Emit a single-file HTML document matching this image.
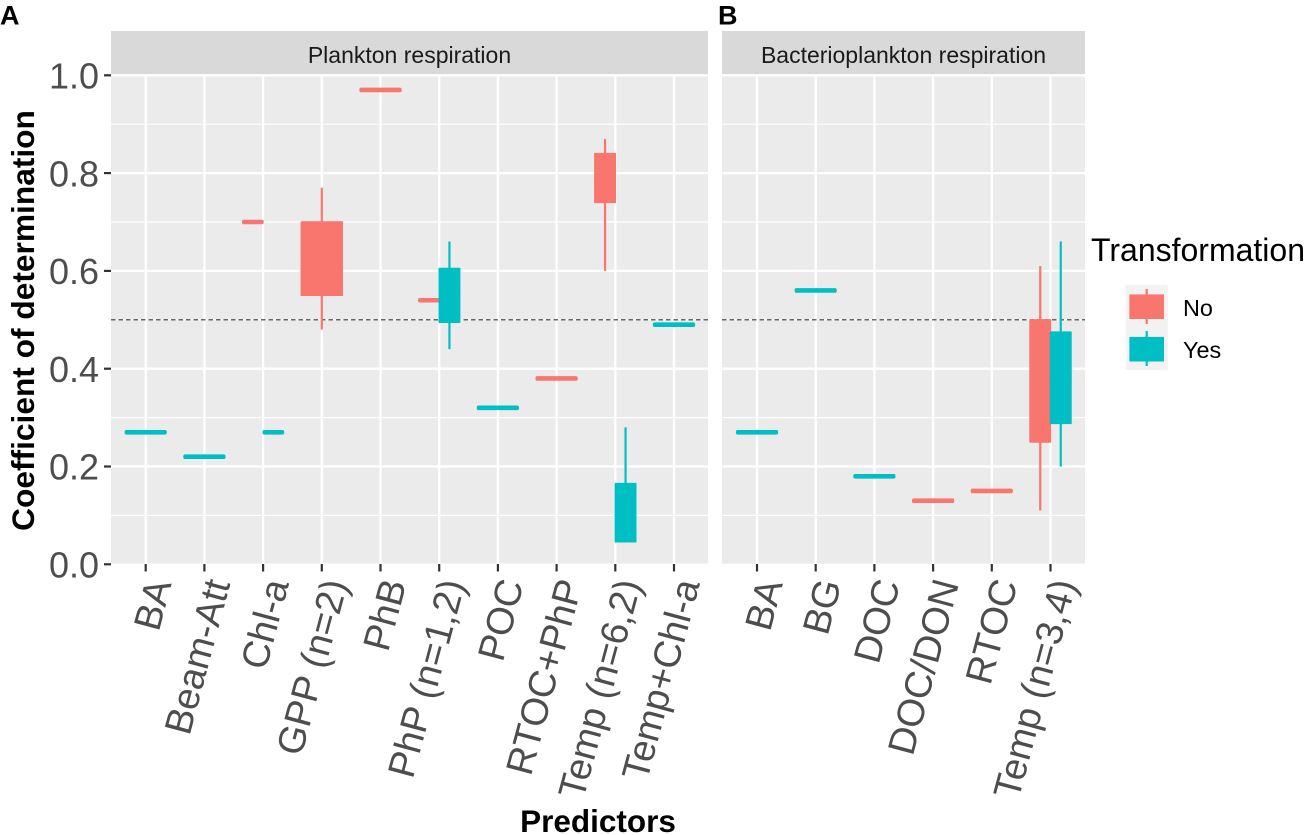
<!DOCTYPE html>
<html lang="en">
<head>
<meta charset="utf-8">
<title>Coefficient of determination by predictor</title>
<style>
html,body{margin:0;padding:0;background:#fff;}
#chart{display:block;width:1308px;height:835px;font-family:"Liberation Sans",Arial,sans-serif;}
</style>
</head>
<body>
<svg id="chart" xmlns="http://www.w3.org/2000/svg" width="1308" height="835" viewBox="0 0 1308 835">
  <rect x="0" y="0" width="1308" height="835" fill="#ffffff"/>
  <text x="0" y="24.5" font-size="27" font-weight="700" fill="#000">A</text>
  <text x="718" y="24.5" font-size="27" font-weight="700" fill="#000">B</text>
  <text transform="translate(34,320.5) rotate(-90)" text-anchor="middle" font-size="31.7" font-weight="700" fill="#000">Coefficient of determination</text>
  <text x="598" y="832" text-anchor="middle" font-size="31.5" font-weight="700" fill="#000">Predictors</text>
  <g id="plot"></g>
  <g>
    <text x="1091" y="261" font-size="32" fill="#000">Transformation</text>
    <rect x="1125.7" y="285" width="42" height="85" fill="#f2f2f2"/>
    <g>
      <line x1="1146.7" x2="1146.7" y1="289" y2="324" stroke="#F8766D" stroke-width="2.2"/>
      <rect x="1130" y="295" width="33.4" height="23.4" fill="#F8766D" stroke="#F8766D" stroke-width="1.2"/>
      <text x="1183" y="316" font-size="23.4" fill="#000">No</text>
    </g>
    <g>
      <line x1="1146.7" x2="1146.7" y1="331" y2="366" stroke="#00BFC4" stroke-width="2.2"/>
      <rect x="1130" y="337.5" width="33.4" height="23.4" fill="#00BFC4" stroke="#00BFC4" stroke-width="1.2"/>
      <text x="1183" y="358" font-size="23.4" fill="#000">Yes</text>
    </g>
  </g>
</svg>
<script>
// Data. Each entry: [low whisker, Q1, median, Q3, high whisker]; null = no box.
const panelACategories = ['BA','Beam-Att','Chl-a','GPP (n=2)','PhB','PhP (n=1,2)','POC','RTOC+PhP','Temp (n=6,2)','Temp+Chl-a'];
const panelANo = [null, null, [0.70,0.70,0.70,0.70,0.70], [0.48,0.55,0.625,0.70,0.77], [0.97,0.97,0.97,0.97,0.97], [0.54,0.54,0.54,0.54,0.54], null, [0.38,0.38,0.38,0.38,0.38], [0.60,0.74,0.79,0.84,0.87], null];
const panelAYes = [[0.27,0.27,0.27,0.27,0.27], [0.22,0.22,0.22,0.22,0.22], [0.27,0.27,0.27,0.27,0.27], null, null, [0.44,0.495,0.55,0.605,0.66], [0.32,0.32,0.32,0.32,0.32], null, [0.046,0.046,0.10,0.165,0.28], [0.49,0.49,0.49,0.49,0.49]];
const panelBCategories = ['BA','BG','DOC','DOC/DON','RTOC','Temp (n=3,4)'];
const panelBNo = [null, null, null, [0.13,0.13,0.13,0.13,0.13], [0.15,0.15,0.15,0.15,0.15], [0.11,0.25,0.37,0.50,0.61]];
const panelBYes = [[0.27,0.27,0.27,0.27,0.27], [0.56,0.56,0.56,0.56,0.56], [0.18,0.18,0.18,0.18,0.18], null, null, [0.20,0.288,0.38,0.475,0.66]];
const yMajorTicks = [0, 0.2, 0.4, 0.6, 0.8, 1.0];
const yMinorTicks = [0.1, 0.3, 0.5, 0.7, 0.9];
const referenceValue = 0.5;
const panelATitle = 'Plankton respiration';
const panelBTitle = 'Bacterioplankton respiration';

const NS = 'http://www.w3.org/2000/svg';
const plot = document.getElementById('plot');
const COLOR_NO = '#F8766D';
const COLOR_YES = '#00BFC4';
const STEP = 58.7;

function yScale(v) { return 564.3 - 489 * v; }

function mk(parent, tag, attrs, text) {
  const el = document.createElementNS(NS, tag);
  for (const k in attrs) el.setAttribute(k, attrs[k]);
  if (text !== undefined) el.textContent = text;
  parent.appendChild(el);
  return el;
}

function drawBox(g, stats, cx, halfW, color, slug) {
  const box = mk(g, 'g', {});
  
  
  if (stats[4] > stats[0]) {
    const whisker = mk(box, 'line', {x1: cx, x2: cx, y1: yScale(stats[4]), y2: yScale(stats[0]), stroke: color, 'stroke-width': 2.2});
    
    
  }
  if (stats[3] > stats[1]) {
    const body = mk(box, 'rect', {x: cx - halfW, width: 2 * halfW, y: yScale(stats[3]), height: yScale(stats[1]) - yScale(stats[3]), fill: color, stroke: color, 'stroke-width': 1.4, 'stroke-linejoin': 'round'});
    
    
  }
  const med = mk(box, 'rect', {x: cx - halfW - 0.6, width: 2 * halfW + 1.2, y: yScale(stats[2]) - 2.3, height: 4.6, rx: 1.8, fill: color});
  
  
}

function drawPanel(name, left, right, firstTick, title, categories, noData, yesData) {
  const xScale = i => firstTick + STEP * i;
  const g = mk(plot, 'g', {});
  
  

  const strip = mk(g, 'rect', {x: left, y: 31, width: right - left, height: 44, fill: '#d9d9d9'});
  
  
  const stripText = mk(g, 'text', {x: (left + right) / 2, y: 63, 'text-anchor': 'middle', 'font-size': 23, fill: '#1a1a1a'}, title);
  
  

  const bg = mk(g, 'rect', {x: left, y: 75, width: right - left, height: 488.6, fill: '#ebebeb'});
  
  

  yMinorTicks.forEach(v => {
    const l = mk(g, 'line', {x1: left, x2: right, y1: yScale(v), y2: yScale(v), stroke: '#fff', 'stroke-width': 1.2});
    
    
  });
  yMajorTicks.forEach(v => {
    if (v === 0) return;
    const l = mk(g, 'line', {x1: left, x2: right, y1: yScale(v), y2: yScale(v), stroke: '#fff', 'stroke-width': 2.3});
    
    
  });
  categories.forEach((c, i) => {
    const l = mk(g, 'line', {x1: xScale(i), x2: xScale(i), y1: 75, y2: 563.6, stroke: '#fff', 'stroke-width': 2.3});
    
    
  });

  const ref = mk(g, 'line', {x1: left, x2: right, y1: yScale(referenceValue), y2: yScale(referenceValue), stroke: '#3a3a3a', 'stroke-width': 1.2, 'stroke-dasharray': '4.5 3'});
  
  

  const bw = 41;
  categories.forEach((c, i) => {
    const no = noData[i];
    const yes = yesData[i];
    const both = no && yes;
    const slug = name + '-' + c.replace(/[^A-Za-z0-9]+/g, '-').toLowerCase();
    if (no) drawBox(g, no, both ? xScale(i) - bw / 4 : xScale(i), both ? bw / 4 : bw / 2, COLOR_NO, slug + '-no');
    if (yes) drawBox(g, yes, both ? xScale(i) + bw / 4 : xScale(i), both ? bw / 4 : bw / 2, COLOR_YES, slug + '-yes');
  });

  categories.forEach((c, i) => {
    const t = mk(g, 'line', {x1: xScale(i), x2: xScale(i), y1: 564, y2: 571.5, stroke: '#333', 'stroke-width': 2.2});
    
    
    const lab = mk(g, 'text', {transform: 'translate(' + (xScale(i) + 26) + ',583.5) rotate(-75)', 'text-anchor': 'end', 'font-size': 38, fill: '#4d4d4d'}, c);
    
    
  });
}

drawPanel('panel-a', 111, 708, 145.7, panelATitle, panelACategories, panelANo, panelAYes);
drawPanel('panel-b', 722, 1085, 757, panelBTitle, panelBCategories, panelBNo, panelBYes);

yMajorTicks.forEach(v => {
  const t = mk(plot, 'line', {x1: 104, x2: 111, y1: yScale(v), y2: yScale(v), stroke: '#333', 'stroke-width': 2.2});
  
  
  const lab = mk(plot, 'text', {x: 99, y: yScale(v) + 13.2, 'text-anchor': 'end', 'font-size': 36, fill: '#4d4d4d'}, v.toFixed(1));
  
  
});
</script>
</body>
</html>
